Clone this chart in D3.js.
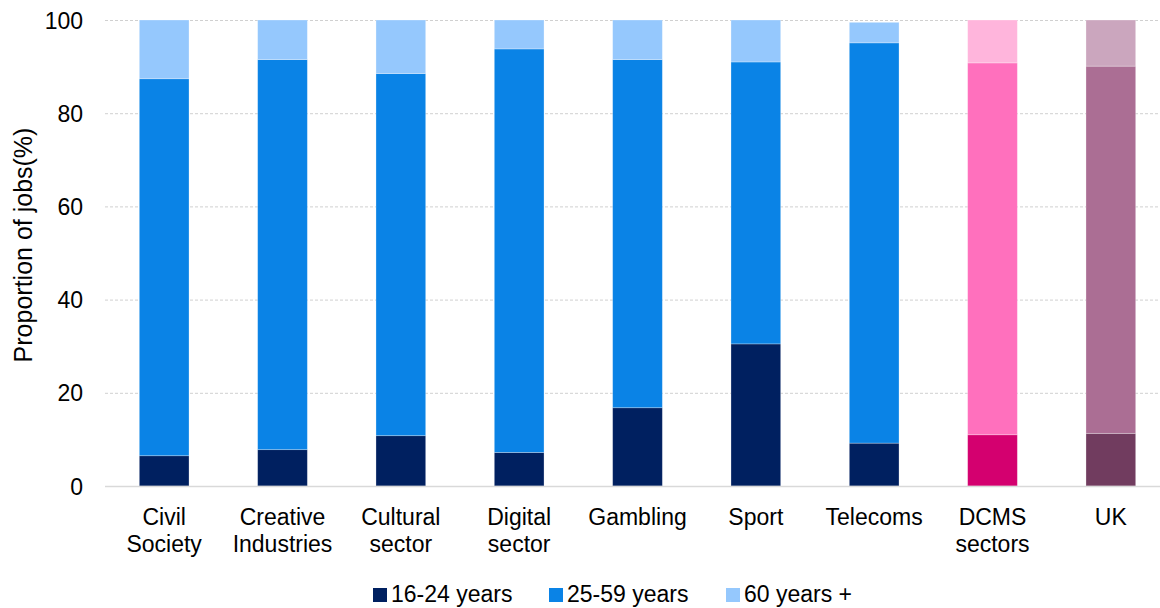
<!DOCTYPE html>
<html>
<head>
<meta charset="utf-8">
<script src="https://cdn.jsdelivr.net/npm/d3@7"></script>
<style>
	body { margin: 0; background: #fff; }
	text { font-family: "Liberation Sans", Arial, sans-serif; fill: #000; }
</style>
</head>
<body>
<div id="chart"></div>
<script>

// categories (two-line labels)
const categories = ["Civil Society", "Creative Industries", "Cultural sector", "Digital sector",
	"Gambling", "Sport", "Telecoms", "DCMS sectors", "UK"]
const labelLines = [["Civil", "Society"], ["Creative", "Industries"], ["Cultural", "sector"], ["Digital", "sector"],
	["Gambling"], ["Sport"], ["Telecoms"], ["DCMS", "sectors"], ["UK"]]

const seriesNames = ["16-24 years", "25-59 years", "60 years +"]
const age16to24 = [6.5, 7.8, 10.8, 7.2, 16.8, 30.5, 9.2, 11.0, 11.3]
const age25to59 = [80.9, 83.7, 77.7, 86.6, 74.7, 60.5, 85.9, 79.8, 78.8]
const age60plus = [12.6, 8.5, 11.5, 6.2, 8.5, 9.0, 4.4, 9.2, 9.9]

const yTicks = [0, 20, 40, 60, 80, 100]

// colours: default blues, DCMS pinks, UK purples
const blues = ["#002060", "#0a83e6", "#95c8fd"]
const pinks = ["#d4006f", "#ff70bd", "#ffb5dc"]
const purples = ["#713c5f", "#ab6e94", "#cba6be"]

function colourFor(cat, i) {
	if (cat == "DCMS sectors") return pinks[i]
	if (cat == "UK") return purples[i]
	return blues[i]
}

const width = 1160
const height = 608
const plotLeft = 105
const plotRight = 1170
const plotTop = 20
const plotBottom = 486

const svg = d3.select("#chart").append("svg")
	.attr("width", width)
	.attr("height", height)

const x = d3.scaleBand()
	.domain(categories)
	.range([plotLeft, plotRight])
	.paddingInner(0.58)
	.paddingOuter(0.29)

const y = d3.scaleLinear()
	.domain([0, 100])
	.range([plotBottom, plotTop])

// gridlines
const yGrid = d3.axisLeft(y)
	.tickValues(yTicks.filter(d => d > 0))
	.tickFormat("")
	.tickSize(-(width - plotLeft))

const grid = svg.append("g")
	.attr("transform", "translate(" + plotLeft + ",0)")
	.call(yGrid)
grid.select(".domain").remove()
grid.selectAll("line")
	.attr("stroke", "#d0d0d0")
	.attr("stroke-dasharray", "3,2")

// stacked data
const rows = categories.map((c, i) => ({
	cat: c,
	a: age16to24[i],
	b: age25to59[i],
	c: age60plus[i]
}))
const stack = d3.stack().keys(["a", "b", "c"])
const layers = stack(rows)

layers.forEach(function(layer, li) {
	svg.append("g")
		.selectAll("rect")
		.data(layer)
		.enter()
		.append("rect")
		.attr("x", d => x(d.data.cat))
		.attr("width", x.bandwidth())
		.attr("y", d => y(d[1]))
		.attr("height", d => y(d[0]) - y(d[1]))
		.attr("fill", d => colourFor(d.data.cat, li))
		.attr("stroke", "rgba(255,255,255,0.35)")
		.attr("stroke-width", 0.8)
})

// baseline
svg.append("line")
	.attr("x1", plotLeft)
	.attr("x2", width)
	.attr("y1", y(0) + 0.5)
	.attr("y2", y(0) + 0.5)
	.attr("stroke", "#d9d9d9")
	.attr("stroke-width", 1.5)

// y axis labels
const yAxis = d3.axisLeft(y)
	.tickValues(yTicks)
	.tickSize(0)
	.tickPadding(0)
const yAxisGroup = svg.append("g")
	.attr("transform", "translate(83,0)")
	.call(yAxis)
yAxisGroup.select(".domain").remove()
yAxisGroup.selectAll("text")
	.style("font-family", '"Liberation Sans", Arial, sans-serif')
	.attr("font-size", "23px")
	.attr("fill", "#000")
	.attr("dy", "0.35em")

// y axis title
svg.append("text")
	.attr("transform", "translate(32,245) rotate(-90)")
	.attr("text-anchor", "middle")
	.attr("font-size", "25px")
	.text("Proportion of jobs(%)")

// category labels
const xLabels = svg.append("g")
categories.forEach(function(c, i) {
	const t = xLabels.append("text")
		.attr("x", x(c) + x.bandwidth() / 2)
		.attr("y", 525)
		.attr("text-anchor", "middle")
		.attr("font-size", "23px")
	labelLines[i].forEach(function(line, j) {
		t.append("tspan")
			.attr("x", x(c) + x.bandwidth() / 2)
			.attr("dy", j == 0 ? 0 : 27)
			.text(line)
	})
})

// legend
const legendItems = [
	{ name: seriesNames[0], color: blues[0], x: 373 },
	{ name: seriesNames[1], color: blues[1], x: 549 },
	{ name: seriesNames[2], color: blues[2], x: 726 }
]
const legend = svg.append("g")
legendItems.forEach(function(d) {
	legend.append("rect")
		.attr("x", d.x)
		.attr("y", 588)
		.attr("width", 14)
		.attr("height", 14)
		.attr("fill", d.color)
	legend.append("text")
		.attr("x", d.x + 18)
		.attr("y", 602)
		.attr("font-size", "23px")
		.text(d.name)
})

</script>
</body>
</html>
